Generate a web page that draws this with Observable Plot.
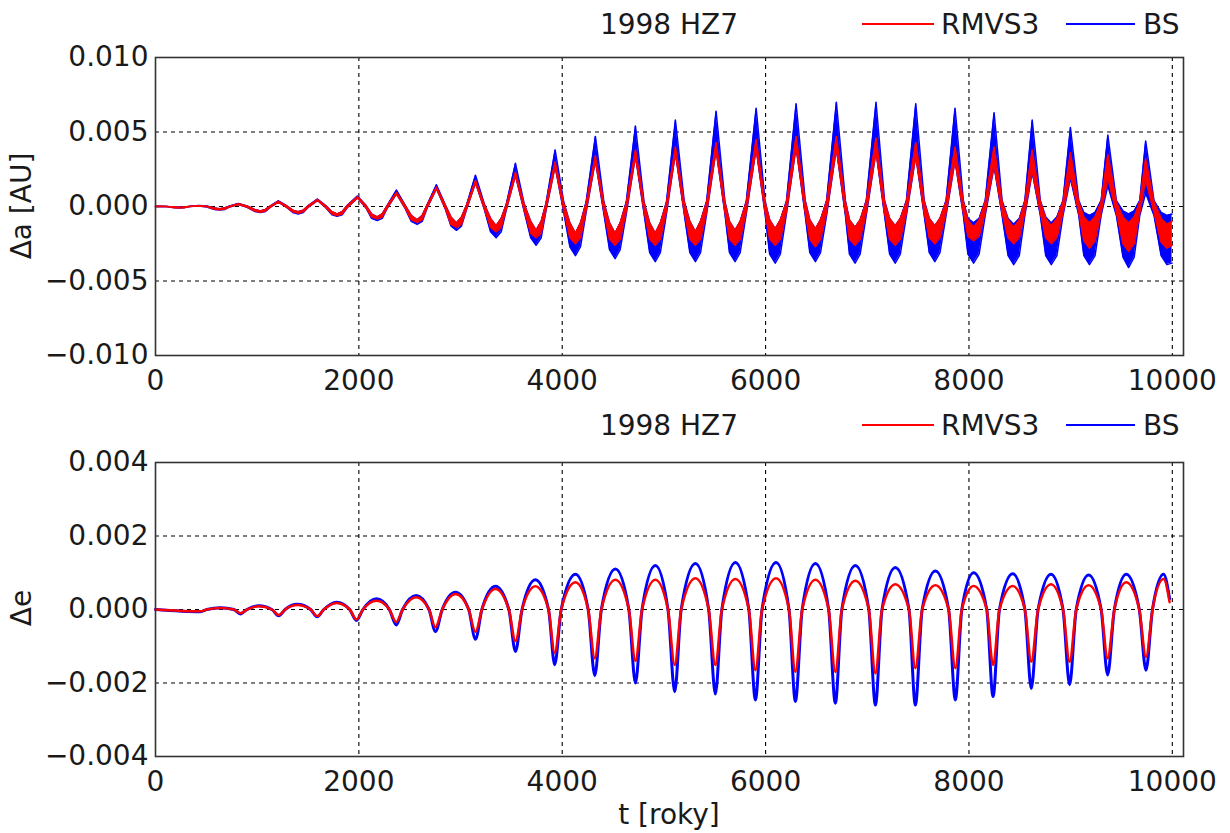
<!DOCTYPE html>
<html>
<head>
<meta charset="utf-8">
<script src="https://cdn.jsdelivr.net/npm/d3@7"></script>
<script src="https://cdn.jsdelivr.net/npm/@observablehq/plot@0.6"></script>
<style>
  html, body { margin: 0; padding: 0; background: #fff; }
  #page { position: relative; width: 1230px; height: 833px; overflow: hidden; font-family: "DejaVu Sans", sans-serif; color: #1a1a1a; }
  .panel { position: absolute; left: 0; }
  .txt { position: absolute; font-size: 28px; line-height: 28px; white-space: nowrap; color: #1a1a1a; }
  .lg { position: absolute; height: 2px; }
</style>
</head>
<body>
<div id="page"></div>
<script>
// ---------- ticks ----------
const xTicks = [0, 2000, 4000, 6000, 8000, 10000];
const xGrid = [2000, 4000, 6000, 8000, 10000];
const aTicks = [-0.010, -0.005, 0, 0.005, 0.010];
const aGrid = [-0.005, 0, 0.005];
const eTicks = [-0.004, -0.002, 0, 0.002, 0.004];
const eGrid = [-0.002, 0, 0.002];
const seriesNames = ["RMVS3", "BS"];
const seriesColors = ["#ff0000", "#0000ff"];
const panelTitle = "1998 HZ7";

// ---------- Δa panel: times of features ----------
const aPeakT   = [30, 424, 816, 1209, 1593, 1986, 2370, 2763, 3147, 3540, 3930, 4326, 4720, 5113, 5513, 5907, 6300, 6696, 7086, 7477, 7863, 8247, 8622, 8998, 9366, 9738];
const aDownT   = [110, 505, 900, 1290, 1675, 2070, 2455, 2850, 3235, 3625, 4015, 4410, 4805, 5200, 5600, 5995, 6390, 6785, 7170, 7560, 7945, 8326, 8702, 9080, 9450, 9820];
const aShDnT   = [185, 580, 975, 1350, 1735, 2125, 2515, 2905, 3295, 3690, 4075, 4465, 4860, 5255, 5645, 6040, 6435, 6825, 7220, 7610, 7990, 8385, 8755, 9130, 9515, 9890];
const aTroughT = [230, 630, 1032, 1403, 1786, 2180, 2573, 2960, 3350, 3743, 4130, 4520, 4915, 5310, 5700, 6095, 6490, 6880, 7275, 7665, 8046, 8440, 8810, 9185, 9570, 9947];
const aShUpT   = [280, 680, 1082, 1453, 1836, 2230, 2623, 3010, 3400, 3793, 4180, 4570, 4965, 5360, 5750, 6145, 6540, 6930, 7325, 7715, 8100, 8495, 8865, 9240, 9625];
const aUpT     = [330, 730, 1130, 1500, 1885, 2280, 2670, 3060, 3450, 3840, 4235, 4630, 5025, 5420, 5810, 6205, 6600, 6990, 7385, 7775, 8160, 8550, 8925, 9300, 9680];
const aEndT = 9997;

// RMVS3 (red) Δa envelope
const rAPeakHi = [0.00002, 0.00005, 0.00018, 0.00035, 0.00047, 0.00065, 0.00095, 0.0013, 0.00175, 0.0023, 0.0030, 0.0034, 0.0038, 0.0040, 0.0043, 0.0045, 0.0047, 0.0047, 0.0046, 0.0043, 0.0040, 0.0040, 0.0038, 0.0036, 0.0035, 0.0032];
const rAPeakLo = [0, 0.00003, 0.00014, 0.0003, 0.0004, 0.00058, 0.00085, 0.0012, 0.0016, 0.0021, 0.0027, 0.0031, 0.0034, 0.0036, 0.0038, 0.0039, 0.0040, 0.0039, 0.0037, 0.0034, 0.0031, 0.0028, 0.0024, 0.0021, 0.0019, 0.0018];
const rAZeroLo = [0, -0.00002, -0.00004, -0.00005, -0.00006, -0.00008, -0.0001, -0.00013, -0.00016, -0.0002, -0.00025, -0.0003, -0.0003, -0.00035, -0.00035, -0.00035, -0.0004, -0.0004, -0.0004, -0.0004, -0.0004, -0.0004, -0.0004, -0.0004, -0.0004, -0.0004];
const rAZeroHi = [0, 0.00002, 0.00003, 0.00004, 0.00005, 0.00006, 0.00008, 0.0001, 0.00012, 0.00015, 0.0002, 0.0002, 0.0002, 0.00025, 0.00025, 0.00025, 0.0003, 0.0003, 0.0003, 0.0003, 0.0003, 0.0003, 0.0003, 0.0003, 0.0003, 0.0003];
const rAShLo = [-0.00008, -0.00018, -0.0003, -0.00036, -0.0005, -0.0007, -0.0009, -0.0012, -0.0014, -0.0018, -0.0021, -0.0022, -0.0022, -0.0022, -0.0022, -0.0022, -0.0022, -0.0022, -0.0022, -0.0021, -0.0020, -0.0021, -0.0021, -0.0023, -0.0025, -0.0024];
const rAShHi = [-0.00003, -0.0001, -0.0002, -0.00025, -0.00035, -0.0005, -0.0006, -0.0007, -0.0008, -0.001, -0.0011, -0.0011, -0.0011, -0.001, -0.001, -0.0009, -0.0009, -0.0009, -0.0008, -0.0008, -0.0009, -0.0009, -0.0008, -0.0007, -0.0007, -0.0008];
const rATroughLo = [-0.0001, -0.00022, -0.00038, -0.00045, -0.0006, -0.00083, -0.00106, -0.0014, -0.0017, -0.0021, -0.0025, -0.0026, -0.0026, -0.0026, -0.0026, -0.0026, -0.0027, -0.0026, -0.0026, -0.0025, -0.0023, -0.0025, -0.0025, -0.0028, -0.0030, -0.0028];
const rATroughHi = [-0.00005, -0.00015, -0.0003, -0.00035, -0.0005, -0.0007, -0.0009, -0.0011, -0.0013, -0.0016, -0.0018, -0.0018, -0.0018, -0.0017, -0.0016, -0.0015, -0.0015, -0.0014, -0.0013, -0.0013, -0.0014, -0.0014, -0.0013, -0.0011, -0.0011, -0.0012];
const rAEnd = [-0.0026, -0.0010];

// BS (blue) Δa envelope
const bAPeakHi = [0.00002, 0.00006, 0.0002, 0.00038, 0.0005, 0.0007, 0.0011, 0.00146, 0.0021, 0.0029, 0.0038, 0.0047, 0.0054, 0.0058, 0.0064, 0.0066, 0.0069, 0.0070, 0.0070, 0.0069, 0.0066, 0.0063, 0.0058, 0.0053, 0.0048, 0.0044];
const bAPeakLo = [0, 0.00003, 0.00014, 0.0003, 0.0004, 0.00058, 0.00085, 0.0012, 0.0016, 0.0021, 0.0027, 0.0031, 0.0034, 0.0036, 0.0038, 0.0039, 0.0040, 0.0039, 0.0037, 0.0034, 0.0031, 0.0027, 0.0023, 0.0019, 0.0014, 0.0009];
const bAZeroLo = [0, -0.00003, -0.00005, -0.00006, -0.00008, -0.0001, -0.00013, -0.00017, -0.00022, -0.0003, -0.0004, -0.0005, -0.0005, -0.0005, -0.0005, -0.0005, -0.0006, -0.0006, -0.0006, -0.0006, -0.0006, -0.0006, -0.0006, -0.0006, -0.0006, -0.0006];
const bAZeroHi = [0, 0.00003, 0.00004, 0.00005, 0.00006, 0.00008, 0.0001, 0.00012, 0.00015, 0.0002, 0.0003, 0.0003, 0.0003, 0.00035, 0.00035, 0.00035, 0.0004, 0.0004, 0.0004, 0.0004, 0.0004, 0.0004, 0.0004, 0.0004, 0.0004, 0.0004];
const bAShLo = [-0.00008, -0.0002, -0.00033, -0.0004, -0.00055, -0.0008, -0.001, -0.0013, -0.0017, -0.0021, -0.0027, -0.0029, -0.0031, -0.0031, -0.0031, -0.0032, -0.0031, -0.0032, -0.0032, -0.0031, -0.0032, -0.0033, -0.0033, -0.0033, -0.0034, -0.0033];
const bAShHi = [-0.00003, -0.0001, -0.0002, -0.00025, -0.00035, -0.0005, -0.0006, -0.0007, -0.0008, -0.001, -0.0011, -0.0011, -0.0011, -0.001, -0.001, -0.0009, -0.0009, -0.0009, -0.0008, -0.0008, -0.0008, -0.0008, -0.0007, -0.0004, -0.0003, -0.0004];
const bATroughLo = [-0.0001, -0.00024, -0.0004, -0.0005, -0.00065, -0.00094, -0.0012, -0.0016, -0.0021, -0.0026, -0.0033, -0.0035, -0.0037, -0.0037, -0.0037, -0.0038, -0.0037, -0.0038, -0.0038, -0.0037, -0.0038, -0.0039, -0.0039, -0.0039, -0.0041, -0.0039];
const bATroughHi = [-0.00005, -0.00015, -0.0003, -0.00035, -0.0005, -0.0007, -0.0009, -0.0011, -0.0013, -0.0016, -0.0018, -0.0018, -0.0018, -0.0017, -0.0016, -0.0015, -0.0015, -0.0014, -0.0013, -0.0013, -0.0011, -0.0012, -0.0011, -0.0006, -0.0005, -0.0006];
const bAEnd = [-0.0038, -0.0005];

// ---------- Δe panel: times of features ----------
const eTroughT = [442, 835, 1212, 1590, 1976, 2367, 2753, 3147, 3540, 3926, 4320, 4720, 5106, 5506, 5900, 6293, 6686, 7080, 7473, 7866, 8237, 8613, 8990, 9364, 9741];
const eUpT     = [505, 900, 1275, 1655, 2040, 2430, 2820, 3210, 3605, 3990, 4385, 4785, 5170, 5570, 5965, 6360, 6750, 7145, 7540, 7930, 8300, 8680, 9055, 9430, 9805];
const ePeakT   = [639, 1016, 1393, 1780, 2173, 2563, 2950, 3343, 3736, 4130, 4523, 4916, 5310, 5703, 6103, 6490, 6883, 7276, 7670, 8046, 8430, 8807, 9177, 9547, 9914];
const eDownT   = [770, 1145, 1525, 1910, 2300, 2690, 3080, 3475, 3865, 4255, 4655, 5040, 5440, 5835, 6230, 6620, 7015, 7410, 7800, 8175, 8550, 8925, 9300, 9675];
const eEndT = 9973;

const rETrough = [-0.00005, -0.0001, -0.00015, -0.00018, -0.00027, -0.00034, -0.00048, -0.00061, -0.00086, -0.00118, -0.00133, -0.0014, -0.00151, -0.00151, -0.00165, -0.0017, -0.0017, -0.00174, -0.0016, -0.0016, -0.00151, -0.00142, -0.00142, -0.00133, -0.00129];
const rEPeak   = [0.00004, 0.00009, 0.00012, 0.00018, 0.00024, 0.00033, 0.00042, 0.00056, 0.00063, 0.00074, 0.00081, 0.00081, 0.00085, 0.00083, 0.00085, 0.00081, 0.00078, 0.00069, 0.00066, 0.00064, 0.00064, 0.00069, 0.00066, 0.00074, 0.00083];
const rEEnd = 0.0002;
const bETrough = [-0.00006, -0.00012, -0.00017, -0.0002, -0.0003, -0.00042, -0.0006, -0.00081, -0.00114, -0.0015, -0.0018, -0.0020, -0.00224, -0.0023, -0.00246, -0.0025, -0.00255, -0.0026, -0.0026, -0.00246, -0.00237, -0.00215, -0.00205, -0.00178, -0.00165];
const bEPeak   = [0.00005, 0.0001, 0.00014, 0.0002, 0.00029, 0.00038, 0.00047, 0.00063, 0.00081, 0.00096, 0.0011, 0.0012, 0.00125, 0.00128, 0.00128, 0.00125, 0.0012, 0.00114, 0.00105, 0.001, 0.00097, 0.00096, 0.00094, 0.00096, 0.00096];
const bEEnd = 0.0003;

// ---------- assemble tables ----------
function bandRows(pLo, pHi, zLo, zHi, sLo, sHi, tLo, tHi, end) {
  const rows = [{t: 0, lo: 0, hi: 0}];
  aPeakT.forEach((t, k) => {
    rows.push({t, lo: pLo[k], hi: pHi[k]});
    rows.push({t: aDownT[k], lo: zLo[k], hi: zHi[k]});
    rows.push({t: aShDnT[k], lo: sLo[k], hi: sHi[k]});
    rows.push({t: aTroughT[k], lo: tLo[k], hi: tHi[k]});
    if (k < aShUpT.length) rows.push({t: aShUpT[k], lo: sLo[k], hi: sHi[k]});
    if (k < aUpT.length) rows.push({t: aUpT[k], lo: zLo[k], hi: zHi[k]});
  });
  rows.push({t: aEndT, lo: end[0], hi: end[1]});
  return rows.sort((a, b) => a.t - b.t);
}
function lineRows(tr, pk, end) {
  const rows = [{t: 0, v: 0}];
  eTroughT.forEach((t, k) => {
    rows.push({t, v: tr[k]});
    rows.push({t: eUpT[k], v: 0});
    rows.push({t: ePeakT[k], v: pk[k]});
    if (k < eDownT.length) rows.push({t: eDownT[k], v: 0});
  });
  rows.push({t: eEndT, v: end});
  return rows.sort((a, b) => a.t - b.t);
}
const redA = bandRows(rAPeakLo, rAPeakHi, rAZeroLo, rAZeroHi, rAShLo, rAShHi, rATroughLo, rATroughHi, rAEnd);
const blueA = bandRows(bAPeakLo, bAPeakHi, bAZeroLo, bAZeroHi, bAShLo, bAShHi, bATroughLo, bATroughHi, bAEnd);
const redE = lineRows(rETrough, rEPeak, rEEnd);
const blueE = lineRows(bETrough, bEPeak, bEEnd);

// ---------- drawing ----------
const fmt3 = d3.format(".3f");
const gridStyle = {stroke: "#000", strokeWidth: 1.1, strokeDasharray: "4,4", strokeOpacity: 1};
const baseStyle = {fontFamily: "DejaVu Sans", fontSize: "28px", color: "#1a1a1a", background: "transparent", overflow: "visible"};

function bandMarks(rows, color) {
  return [
    Plot.areaY(rows, {x: "t", y1: "lo", y2: "hi", fill: color, fillOpacity: 1, curve: "linear"}),
    Plot.line(rows, {x: "t", y: "lo", stroke: color, strokeWidth: 1.5, curve: "linear"}),
    Plot.line(rows, {x: "t", y: "hi", stroke: color, strokeWidth: 1.5, curve: "linear"})
  ];
}

const topPlot = Plot.plot({
  width: 1230, height: 400,
  marginTop: 57, marginBottom: 45, marginLeft: 155, marginRight: 47,
  style: baseStyle,
  x: {domain: [0, 10110], ticks: xTicks, tickFormat: "d", tickSize: 0, tickPadding: 15, label: null},
  y: {domain: [-0.010, 0.010], ticks: aTicks, tickFormat: fmt3, tickSize: 0, tickPadding: 7, label: null},
  marks: [
    Plot.ruleX(xGrid, gridStyle),
    Plot.ruleY(aGrid, gridStyle),
    ...bandMarks(blueA, seriesColors[1]),
    ...bandMarks(redA, seriesColors[0]),
    Plot.frame({stroke: "#333", strokeWidth: 1.6})
  ]
});

const botPlot = Plot.plot({
  width: 1230, height: 428,
  marginTop: 57, marginBottom: 77, marginLeft: 155, marginRight: 47,
  style: baseStyle,
  x: {domain: [0, 10110], ticks: xTicks, tickFormat: "d", tickSize: 0, tickPadding: 15, label: null},
  y: {domain: [-0.004, 0.004], ticks: eTicks, tickFormat: fmt3, tickSize: 0, tickPadding: 7, label: null},
  marks: [
    Plot.ruleX(xGrid, gridStyle),
    Plot.ruleY(eGrid, gridStyle),
    Plot.line(blueE, {x: "t", y: "v", stroke: seriesColors[1], strokeWidth: 3, curve: "monotone-x"}),
    Plot.line(redE, {x: "t", y: "v", stroke: seriesColors[0], strokeWidth: 2.5, curve: "monotone-x"}),
    Plot.frame({stroke: "#333", strokeWidth: 1.6})
  ]
});

const page = document.getElementById("page");
function place(node, top) {
  const d = document.createElement("div");
  d.className = "panel";
  d.style.top = top + "px";
  d.appendChild(node);
  page.appendChild(d);
}
place(topPlot, 0);
place(botPlot, 405);

function addText(str, left, top, extra) {
  const s = document.createElement("div");
  s.className = "txt";
  s.textContent = str;
  s.style.left = left + "px";
  s.style.top = top + "px";
  if (extra) Object.assign(s.style, extra);
  page.appendChild(s);
  return s;
}
function addLine(color, left, top, width) {
  const l = document.createElement("div");
  l.className = "lg";
  l.style.background = color;
  l.style.left = left + "px";
  l.style.top = top + "px";
  l.style.width = width + "px";
  page.appendChild(l);
}
function header(offset) {
  addText(panelTitle, 155, 11 + offset, {width: "1028px", textAlign: "center"});
  addLine(seriesColors[0], 862, 23 + offset, 72);
  addText(seriesNames[0], 941, 11 + offset);
  addLine(seriesColors[1], 1066, 23 + offset, 69);
  addText(seriesNames[1], 1143, 11 + offset);
}
header(0);
header(401);

// axis titles
addText("Δa [AU]", 22, 206, {transform: "translate(-50%, -50%) rotate(-90deg)"});
addText("Δe", 22, 608, {transform: "translate(-50%, -50%) rotate(-90deg)"});
addText("t [roky]", 155, 801, {width: "1028px", textAlign: "center"});
</script>
</body>
</html>
